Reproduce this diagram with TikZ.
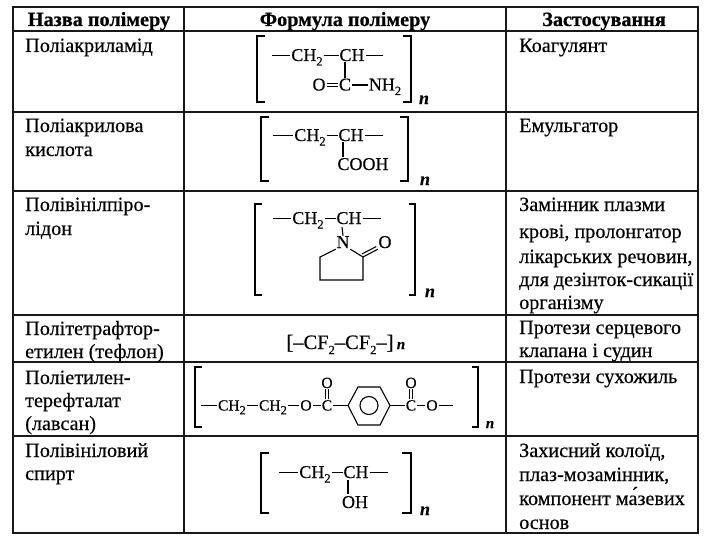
\documentclass[tikz,border=0pt]{standalone}
\usepackage{fontspec}
\setmainfont[FakeBold=0.35,BoldFeatures={FakeBold=0.6},ItalicFeatures={FakeBold=0.35}]{Liberation Serif}
\usetikzlibrary{calc}
\tikzset{
  x=1pt,y=-1pt,
  grid/.style={line width=1.5pt,black!90},
  txt/.style={anchor=base west,inner sep=0pt,font=\fontsize{20.2}{22}\selectfont,text=black},
  head/.style={anchor=base,inner sep=0pt,font=\fontsize{20.2}{22}\selectfont\bfseries,text=black},
  atom/.style={inner xsep=.8pt,inner ysep=1pt,text height=11pt,text depth=0pt,font=\fontsize{18}{18}\selectfont,text=black},
  smallatom/.style={atom,inner xsep=.8pt,text height=10pt,font=\fontsize{15.5}{16}\selectfont},
  bond/.style={line width=1.1pt,black},
  brk/.style={line width=1.3pt,black},
  rep/.style={anchor=base,inner sep=0pt,font=\fontsize{18}{18}\selectfont\bfseries\itshape,text=black},
  repsmall/.style={rep,font=\fontsize{15}{15}\selectfont\bfseries\itshape},
}
\newcommand{\sbs}[1]{\raisebox{-0.25em}{\fontsize{12.5}{12.5}\selectfont #1}}
\begin{document}
\begin{tikzpicture}
\useasboundingbox (0,0) rectangle (718,543);
\fill[white] (0,0) rectangle (718,543);
% grid
\draw[grid] (13,7) rectangle (698,533);
\foreach \y in {31,112,191,315,362,436} \draw[grid] (13,\y) -- (698,\y);
\foreach \x in {184,506} \draw[grid] (\x,7) -- (\x,533);
% header
\node[head] (h1) at (99,26) {Назва полімеру};
\node[head] (h2) at (345,26) {Формула полімеру};
\node[head] (h3) at (604,26) {Застосування};
% names
\node[txt] (a1) at (25,52) {Поліакриламід};
\node[txt] (a2) at (25,132) {Поліакрилова};
\node[txt] (a3) at (25,156) {кислота};
\node[txt] (a4) at (25,211) {Полівінілпіро-};
\node[txt] (a5) at (25,235) {лідон};
\node[txt] (a6) at (25,335) {Політетрафтор-};
\node[txt] (a7) at (25,358) {етилен (тефлон)};
\node[txt] (a8) at (25,384) {Поліетилен-};
\node[txt] (a9) at (25,407) {терефталат};
\node[txt] (a10) at (25,430) {(лавсан)};
\node[txt] (a11) at (25,457) {Полівініловий};
\node[txt] (a12) at (25,480) {спирт};
% uses
\node[txt] (u1) at (519,52) {Коагулянт};
\node[txt] (u2) at (519,132) {Емульгатор};
\node[txt] (u3) at (519,211) {Замінник плазми};
\node[txt] (u4) at (519,238) {крові, пролонгатор};
\node[txt] (u5) at (519,263) {лікарських речовин,};
\node[txt] (u6) at (519,286) {для дезінток-сикації};
\node[txt] (u7) at (519,309) {організму};
\node[txt] (u8) at (519,334) {Протези серцевого};
\node[txt] (u9) at (519,357) {клапана і судин};
\node[txt] (u10) at (519,383) {Протези сухожиль};
\node[txt] (u11) at (519,457) {Захисний колоїд,};
\node[txt] (u12) at (519,481) {плаз-мозамінник,};
\node[txt] (u13) at (519,505) {компонент ма́зевих};
\node[txt] (u14) at (519,529) {основ};
% row 1
\draw[brk] (265,36) -- (257,36) -- (257,102) -- (265,102);
\draw[brk] (403,36) -- (411,36) -- (411,102) -- (403,102);
\node[rep] (n1) at (424,104) {n};
\coordinate (p1l) at (272,55.5); \coordinate (p1r) at (383,55.5);
\node[atom] (p1a) at (307,55.5) {CH\sbs{2}};
\node[atom] (p1b) at (352,55.5) {CH};
\node[atom] (p1o) at (319,85) {O};
\node[atom] (p1c) at (345,85) {C};
\node[atom] (p1n) at (385,85) {NH\sbs{2}};
\draw[bond] (p1l) -- (p1a) (p1a) -- (p1b) (p1b) -- (p1r);
\draw[bond] (p1c.north) -- (p1c |- p1b.south);
\draw[bond,double,double distance=2pt,line width=.8pt] (p1o) -- (p1c);
\draw[bond] (p1c) -- (p1n);
% row 2
\draw[brk] (269,117) -- (261,117) -- (261,181) -- (269,181);
\draw[brk] (400,117) -- (408,117) -- (408,181) -- (400,181);
\node[rep] (n2) at (425,185) {n};
\coordinate (p2l) at (273,135.5); \coordinate (p2r) at (383,135.5);
\node[atom] (p2a) at (310,135.5) {CH\sbs{2}};
\node[atom] (p2b) at (351,135.5) {CH};
\node[atom] (p2c) at (363,164.5) {COOH};
\draw[bond] (p2l) -- (p2a) (p2a) -- (p2b) (p2b) -- (p2r);
\draw[bond] (343,142) -- (343,157);
% row 3
\draw[brk] (262,204) -- (255,204) -- (255,295) -- (262,295);
\draw[brk] (409,204) -- (415,204) -- (415,295) -- (409,295);
\node[rep] (n3) at (430,297) {n};
\coordinate (p3l) at (273,218.5); \coordinate (p3r) at (381,218.5);
\node[atom] (p3a) at (308,218.5) {CH\sbs{2}};
\node[atom] (p3b) at (349,218.5) {CH};
\node[atom,inner xsep=.5pt] (p3n) at (343,242.5) {N};
\node[atom,inner xsep=.5pt] (p3o) at (385,242.5) {O};
\coordinate (r1) at (320,257); \coordinate (r2) at (320,280);
\coordinate (r3) at (363,280); \coordinate (r4) at (363,257);
\draw[bond] (p3l) -- (p3a) (p3a) -- (p3b) (p3b) -- (p3r);
\draw[bond] (p3n.north) -- (342,227);
\draw[bond] (p3n.south west) -- (r1) -- (r2) -- (r3) -- (r4) -- (p3n.south east);
\draw[bond] (r4) -- (p3o.south west);
\draw[bond] ($(r4)+(-1.2,-3)$) -- ($(p3o.south west)+(-1.6,-2.6)$);
% row 4
\node[atom,anchor=base,text height=12pt,font=\fontsize{20.5}{22}\selectfont] (p4) at (340,349) {[–CF\sbs{2}–CF\sbs{2}–]};
\node[repsmall] (n4) at (401,349) {n};
% row 5
\draw[brk] (202,367) -- (195,367) -- (195,427) -- (202,427);
\draw[brk] (472,367) -- (478,367) -- (478,427) -- (472,427);
\node[repsmall] (n5) at (490,428) {n};
\coordinate (p5l) at (201,405.5); \coordinate (p5r) at (453,405.5);
\node[smallatom] (c1) at (232,405.5) {CH\sbs{2}};
\node[smallatom] (c2) at (273,405.5) {CH\sbs{2}};
\node[smallatom] (o1) at (306,405.5) {O};
\node[smallatom] (c3) at (327,405.5) {C};
\node[smallatom] (o2) at (327,383) {O};
\node[smallatom] (c4) at (411,405.5) {C};
\node[smallatom] (o3) at (411,383) {O};
\node[smallatom] (o4) at (432,405.5) {O};
\coordinate (hl) at (348,405.5); \coordinate (hr) at (390,405.5);
\draw[bond] (p5l) -- (c1) (c1) -- (c2) (c2) -- (o1) (o1) -- (c3) (c3) -- (hl);
\draw[bond] (hr) -- (c4) (c4) -- (o4) (o4) -- (p5r);
\draw[bond] (hl) -- (358,387) -- (380,387) -- (hr) -- (380,425) -- (358,425) -- cycle;
\draw[bond] (369,405.5) circle (9);
\draw[bond] ($(c3.north)+(-1.5,0)$) -- ($(o2.south)+(-1.5,0)$) ($(c3.north)+(1.5,0)$) -- ($(o2.south)+(1.5,0)$);
\draw[bond] ($(c4.north)+(-1.5,0)$) -- ($(o3.south)+(-1.5,0)$) ($(c4.north)+(1.5,0)$) -- ($(o3.south)+(1.5,0)$);
% row 6
\draw[brk] (269,453) -- (261,453) -- (261,513) -- (269,513);
\draw[brk] (402,453) -- (411,453) -- (411,513) -- (402,513);
\node[rep] (n6) at (425,515) {n};
\coordinate (p6l) at (279,472.5); \coordinate (p6r) at (388,472.5);
\node[atom] (p6a) at (315,472.5) {CH\sbs{2}};
\node[atom] (p6b) at (356,472.5) {CH};
\node[atom] (p6c) at (355,502.5) {OH};
\draw[bond] (p6l) -- (p6a) (p6a) -- (p6b) (p6b) -- (p6r);
\draw[bond] (348,480) -- (348,494);
\end{tikzpicture}
\end{document}
